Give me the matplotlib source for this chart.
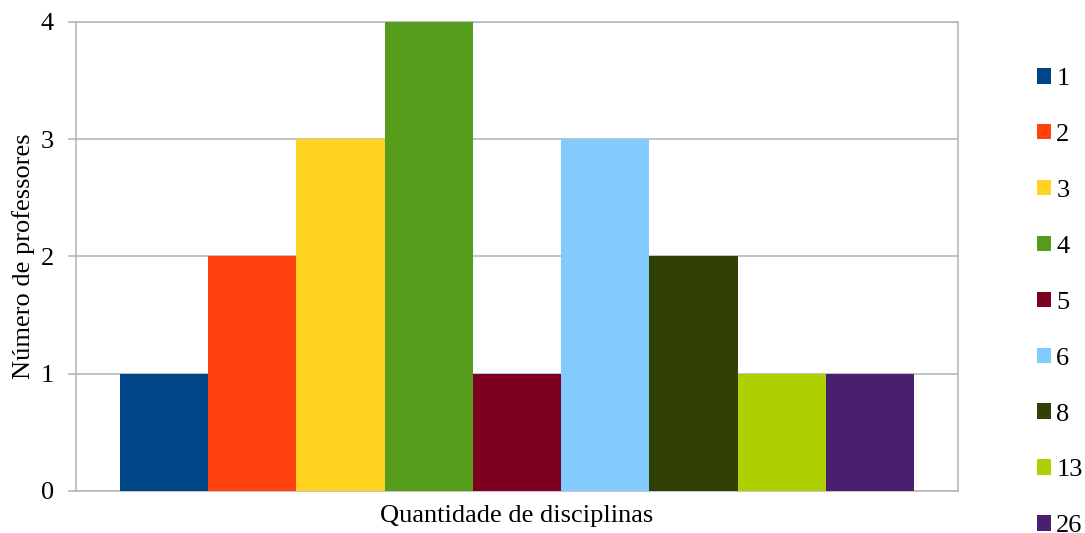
import matplotlib.pyplot as plt
from matplotlib.patches import Patch

plt.rcParams['font.family'] = ['Liberation Serif', 'DejaVu Serif']

disciplinas = ['1', '2', '3', '4', '5', '6', '8', '13', '26']
professores = [1, 2, 3, 4, 1, 3, 2, 1, 1]
cores = ['#004586', '#ff420e', '#ffd320', '#579d1c', '#7e0021',
         '#83caff', '#314004', '#aecf00', '#4b1f6f']

fig = plt.figure(figsize=(10.85, 5.33), dpi=100)
ax = fig.add_axes([0.070, 0.0788, 0.813, 0.880])

x = list(range(len(disciplinas)))
ax.bar(x, professores, width=1.0, color=cores, zorder=3)

ax.set_xlim(-1, len(disciplinas))
ax.set_ylim(0, 4)
ax.set_yticks([0, 1, 2, 3, 4])
ax.set_xticks([])
ax.yaxis.grid(True, color='#b3b3b3', linewidth=1.1, zorder=0)
for s in ax.spines.values():
    s.set_color('#b3b3b3')
    s.set_linewidth(1.1)
ax.tick_params(axis='y', length=6, width=1.1, color='#b3b3b3',
               labelsize=19, pad=10)

ax.set_ylabel('Número de professores', fontsize=19, labelpad=4)
ax.set_xlabel('Quantidade de disciplinas', fontsize=19, labelpad=10)

handles = [Patch(facecolor=c, edgecolor='none') for c in cores]
fig.legend(handles, disciplinas, loc='upper left',
           bbox_to_anchor=(1037 / 1085, 1 - 68 / 533),
           frameon=False, fontsize=19, handlelength=0.53, handleheight=0.53,
           handletextpad=0.2, labelspacing=1.28, borderpad=0,
           borderaxespad=0)

fig.savefig('out.png', dpi=100)
